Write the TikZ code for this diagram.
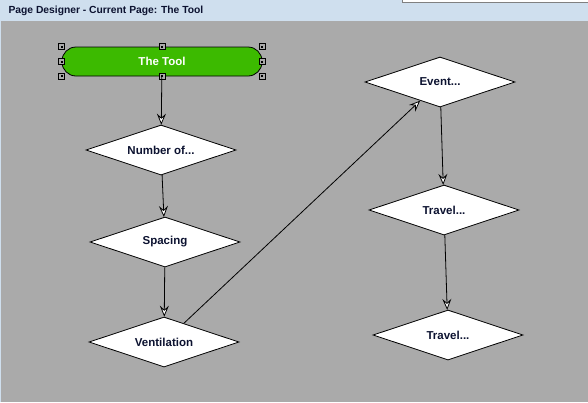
\documentclass[tikz,border=0pt]{standalone}
\usepackage{fontspec}
\setmainfont{Liberation Sans}
\usetikzlibrary{arrows.meta, shapes.geometric}
\definecolor{pagegray}{RGB}{170,170,170}
\definecolor{titleblue}{RGB}{207,223,238}
\definecolor{toolgreen}{RGB}{60,186,0}
\definecolor{labelnavy}{RGB}{12,18,48}

\begin{document}
\begin{tikzpicture}[x=1pt, y=-1pt,
    decision/.style={diamond, draw=black, line width=0.8pt, fill=white,
        aspect=3, minimum width=150pt, minimum height=50pt, inner sep=0pt,
        text=labelnavy, font=\fontsize{11.5}{13}\selectfont\bfseries},
    flowline/.style={line width=0.8pt, -{Stealth[length=11pt, width=9pt, inset=4pt, fill=white]}},
    handle/.style={draw=black, line width=0.8pt, fill=pagegray, minimum size=6pt, inner sep=0pt}]

    % Window frame and page area
    \useasboundingbox (0,0) rectangle (588,402);
    \fill[titleblue] (0,0) rectangle (588,402);
    \fill[pagegray] (1,21) rectangle (588,402);
    \draw[gray, fill=white] (402,-5) rectangle (592,2);
    \node[anchor=west, text=labelnavy, font=\fontsize{10.3}{12}\selectfont\bfseries] (title) at (5,10.5)
        {Page Designer - Current Page: The Tool};

    % Start node (selected)
    \node[draw=black, line width=0.8pt, fill=toolgreen, rounded corners=14pt,
        minimum width=200pt, minimum height=29pt, inner sep=0pt, text=white,
        font=\fontsize{11.5}{13}\selectfont\bfseries] (tool) at (162,61.5) {The Tool};
    \foreach \a in {north west, north, north east, west, east, south west, south, south east}
        \node[handle] (h-\a) at (tool.\a) {};
    \foreach \a in {north west, north, north east, west, east, south west, south, south east}
        \fill (tool.\a) ++(-1,-1) rectangle ++(2,2);

    % Decisions
    \node[decision] (number) at (161,150) {Number of...};
    \node[decision] (spacing) at (165,242) {Spacing};
    \node[decision] (vent) at (164,342) {Ventilation};
    \node[decision] (event) at (440,82) {Event...};
    \node[decision] (travelA) at (444,210) {Travel...};
    \node[decision] (travelB) at (448,335) {Travel...};

    % Connectors
    \draw[flowline] (tool) -- (number);
    \draw[flowline] (number) -- (spacing);
    \draw[flowline] (spacing) -- (vent);
    \draw[flowline] (vent) -- (event);
    \draw[flowline] (event) -- (travelA);
    \draw[flowline] (travelA) -- (travelB);
\end{tikzpicture}
\end{document}
